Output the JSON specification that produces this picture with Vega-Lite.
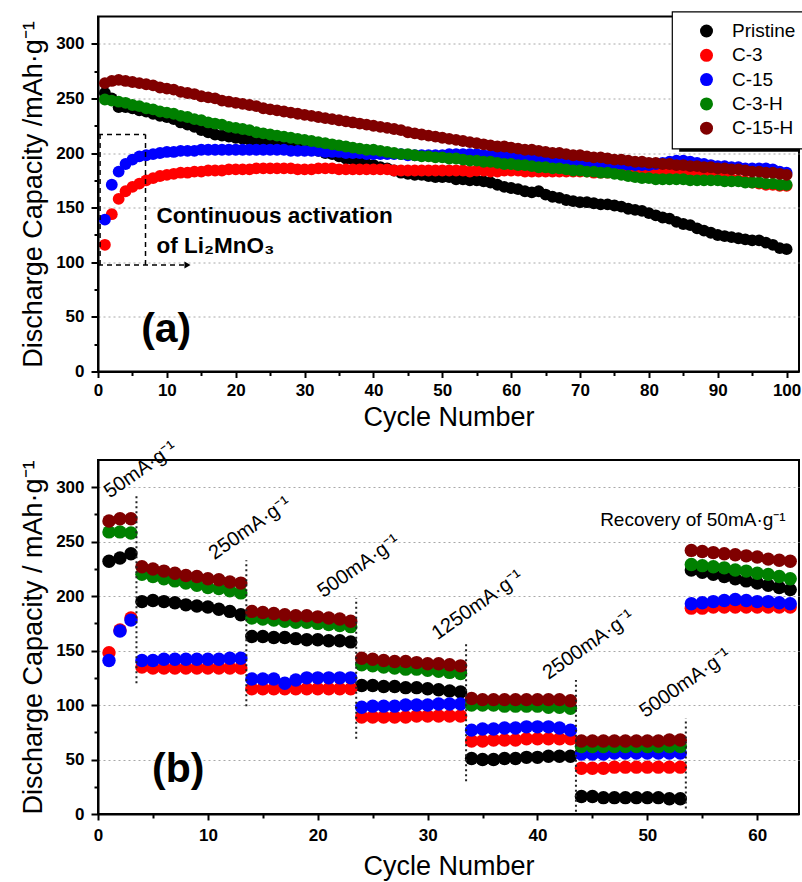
{
"$schema": "https://vega.github.io/schema/vega-lite/v6.json",
"padding": {"left": 18, "top": 9.5, "right": 0, "bottom": 0},
"background": "white",
"spacing": 4.5,
"datasets": {
"a": [
{"c":1,"Pristine":255,"C-3":116,"C-15":139,"C-3-H":249,"C-15-H":264},
{"c":2,"Pristine":250,"C-3":144,"C-15":171,"C-3-H":248,"C-15-H":266},
{"c":3,"Pristine":242,"C-3":158,"C-15":183,"C-3-H":247,"C-15-H":267},
{"c":4,"Pristine":242,"C-3":165,"C-15":190,"C-3-H":246,"C-15-H":266},
{"c":5,"Pristine":241,"C-3":169,"C-15":194,"C-3-H":244,"C-15-H":265},
{"c":6,"Pristine":239,"C-3":172,"C-15":197,"C-3-H":243,"C-15-H":264},
{"c":7,"Pristine":238,"C-3":175,"C-15":198,"C-3-H":241,"C-15-H":263},
{"c":8,"Pristine":236,"C-3":177,"C-15":199,"C-3-H":240,"C-15-H":262},
{"c":9,"Pristine":234,"C-3":179,"C-15":200,"C-3-H":238,"C-15-H":260},
{"c":10,"Pristine":233,"C-3":180,"C-15":201,"C-3-H":237,"C-15-H":259},
{"c":11,"Pristine":231,"C-3":181,"C-15":201,"C-3-H":236,"C-15-H":258},
{"c":12,"Pristine":228,"C-3":182,"C-15":202,"C-3-H":234,"C-15-H":256},
{"c":13,"Pristine":226,"C-3":182,"C-15":202,"C-3-H":233,"C-15-H":255},
{"c":14,"Pristine":224,"C-3":183,"C-15":202,"C-3-H":231,"C-15-H":254},
{"c":15,"Pristine":221,"C-3":183,"C-15":203,"C-3-H":230,"C-15-H":252},
{"c":16,"Pristine":219,"C-3":184,"C-15":203,"C-3-H":228,"C-15-H":251},
{"c":17,"Pristine":217,"C-3":184,"C-15":203,"C-3-H":227,"C-15-H":250},
{"c":18,"Pristine":216,"C-3":184,"C-15":203,"C-3-H":226,"C-15-H":248},
{"c":19,"Pristine":215,"C-3":185,"C-15":203,"C-3-H":224,"C-15-H":247},
{"c":20,"Pristine":214,"C-3":185,"C-15":203,"C-3-H":223,"C-15-H":246},
{"c":21,"Pristine":213,"C-3":185,"C-15":203,"C-3-H":222,"C-15-H":245},
{"c":22,"Pristine":212,"C-3":185,"C-15":203,"C-3-H":221,"C-15-H":244},
{"c":23,"Pristine":211,"C-3":186,"C-15":203,"C-3-H":219,"C-15-H":243},
{"c":24,"Pristine":210,"C-3":186,"C-15":203,"C-3-H":218,"C-15-H":241},
{"c":25,"Pristine":210,"C-3":186,"C-15":203,"C-3-H":217,"C-15-H":240},
{"c":26,"Pristine":209,"C-3":186,"C-15":203,"C-3-H":216,"C-15-H":239},
{"c":27,"Pristine":208,"C-3":186,"C-15":203,"C-3-H":215,"C-15-H":238},
{"c":28,"Pristine":207,"C-3":186,"C-15":202,"C-3-H":214,"C-15-H":237},
{"c":29,"Pristine":207,"C-3":185,"C-15":202,"C-3-H":213,"C-15-H":236},
{"c":30,"Pristine":206,"C-3":185,"C-15":202,"C-3-H":212,"C-15-H":235},
{"c":31,"Pristine":204,"C-3":185,"C-15":202,"C-3-H":211,"C-15-H":234},
{"c":32,"Pristine":202,"C-3":186,"C-15":202,"C-3-H":210,"C-15-H":233},
{"c":33,"Pristine":200,"C-3":186,"C-15":201,"C-3-H":209,"C-15-H":232},
{"c":34,"Pristine":199,"C-3":186,"C-15":201,"C-3-H":208,"C-15-H":231},
{"c":35,"Pristine":197,"C-3":185,"C-15":201,"C-3-H":207,"C-15-H":230},
{"c":36,"Pristine":195,"C-3":185,"C-15":200,"C-3-H":206,"C-15-H":229},
{"c":37,"Pristine":194,"C-3":185,"C-15":200,"C-3-H":205,"C-15-H":228},
{"c":38,"Pristine":192,"C-3":185,"C-15":200,"C-3-H":204,"C-15-H":227},
{"c":39,"Pristine":190,"C-3":185,"C-15":199,"C-3-H":203,"C-15-H":226},
{"c":40,"Pristine":189,"C-3":185,"C-15":199,"C-3-H":203,"C-15-H":225},
{"c":41,"Pristine":187,"C-3":185,"C-15":199,"C-3-H":202,"C-15-H":224},
{"c":42,"Pristine":186,"C-3":185,"C-15":199,"C-3-H":201,"C-15-H":223},
{"c":43,"Pristine":184,"C-3":184,"C-15":199,"C-3-H":200,"C-15-H":222},
{"c":44,"Pristine":182,"C-3":184,"C-15":199,"C-3-H":199,"C-15-H":221},
{"c":45,"Pristine":181,"C-3":184,"C-15":198,"C-3-H":199,"C-15-H":219},
{"c":46,"Pristine":180,"C-3":184,"C-15":198,"C-3-H":198,"C-15-H":218},
{"c":47,"Pristine":180,"C-3":184,"C-15":198,"C-3-H":197,"C-15-H":217},
{"c":48,"Pristine":179,"C-3":184,"C-15":198,"C-3-H":197,"C-15-H":216},
{"c":49,"Pristine":178,"C-3":184,"C-15":198,"C-3-H":196,"C-15-H":215},
{"c":50,"Pristine":178,"C-3":184,"C-15":198,"C-3-H":196,"C-15-H":214},
{"c":51,"Pristine":178,"C-3":184,"C-15":199,"C-3-H":195,"C-15-H":213},
{"c":52,"Pristine":176,"C-3":184,"C-15":199,"C-3-H":195,"C-15-H":212},
{"c":53,"Pristine":176,"C-3":184,"C-15":199,"C-3-H":194,"C-15-H":211},
{"c":54,"Pristine":175,"C-3":183,"C-15":199,"C-3-H":193,"C-15-H":210},
{"c":55,"Pristine":175,"C-3":184,"C-15":199,"C-3-H":193,"C-15-H":209},
{"c":56,"Pristine":174,"C-3":184,"C-15":198,"C-3-H":192,"C-15-H":208},
{"c":57,"Pristine":173,"C-3":183,"C-15":198,"C-3-H":192,"C-15-H":207},
{"c":58,"Pristine":171,"C-3":183,"C-15":198,"C-3-H":191,"C-15-H":206},
{"c":59,"Pristine":169,"C-3":184,"C-15":197,"C-3-H":190,"C-15-H":206},
{"c":60,"Pristine":168,"C-3":184,"C-15":197,"C-3-H":190,"C-15-H":205},
{"c":61,"Pristine":167,"C-3":184,"C-15":196,"C-3-H":189,"C-15-H":204},
{"c":62,"Pristine":165,"C-3":183,"C-15":196,"C-3-H":189,"C-15-H":203},
{"c":63,"Pristine":164,"C-3":183,"C-15":195,"C-3-H":188,"C-15-H":203},
{"c":64,"Pristine":165,"C-3":183,"C-15":195,"C-3-H":187,"C-15-H":202},
{"c":65,"Pristine":162,"C-3":183,"C-15":194,"C-3-H":187,"C-15-H":201},
{"c":66,"Pristine":160,"C-3":183,"C-15":194,"C-3-H":186,"C-15-H":200},
{"c":67,"Pristine":159,"C-3":183,"C-15":193,"C-3-H":186,"C-15-H":200},
{"c":68,"Pristine":157,"C-3":183,"C-15":193,"C-3-H":185,"C-15-H":199},
{"c":69,"Pristine":156,"C-3":183,"C-15":192,"C-3-H":184,"C-15-H":198},
{"c":70,"Pristine":155,"C-3":183,"C-15":192,"C-3-H":184,"C-15-H":198},
{"c":71,"Pristine":155,"C-3":183,"C-15":191,"C-3-H":183,"C-15-H":197},
{"c":72,"Pristine":154,"C-3":182,"C-15":191,"C-3-H":183,"C-15-H":196},
{"c":73,"Pristine":153,"C-3":182,"C-15":191,"C-3-H":182,"C-15-H":196},
{"c":74,"Pristine":153,"C-3":182,"C-15":190,"C-3-H":182,"C-15-H":195},
{"c":75,"Pristine":152,"C-3":182,"C-15":190,"C-3-H":181,"C-15-H":194},
{"c":76,"Pristine":151,"C-3":182,"C-15":190,"C-3-H":180,"C-15-H":194},
{"c":77,"Pristine":149,"C-3":182,"C-15":189,"C-3-H":179,"C-15-H":193},
{"c":78,"Pristine":148,"C-3":181,"C-15":189,"C-3-H":178,"C-15-H":192},
{"c":79,"Pristine":147,"C-3":181,"C-15":189,"C-3-H":177,"C-15-H":192},
{"c":80,"Pristine":145,"C-3":181,"C-15":189,"C-3-H":177,"C-15-H":191},
{"c":81,"Pristine":143,"C-3":182,"C-15":190,"C-3-H":176,"C-15-H":191},
{"c":82,"Pristine":141,"C-3":182,"C-15":191,"C-3-H":176,"C-15-H":190},
{"c":83,"Pristine":140,"C-3":182,"C-15":192,"C-3-H":176,"C-15-H":190},
{"c":84,"Pristine":137,"C-3":181,"C-15":193,"C-3-H":176,"C-15-H":189},
{"c":85,"Pristine":135,"C-3":181,"C-15":193,"C-3-H":176,"C-15-H":189},
{"c":86,"Pristine":134,"C-3":181,"C-15":192,"C-3-H":175,"C-15-H":188},
{"c":87,"Pristine":131,"C-3":180,"C-15":191,"C-3-H":175,"C-15-H":188},
{"c":88,"Pristine":129,"C-3":179,"C-15":190,"C-3-H":175,"C-15-H":187},
{"c":89,"Pristine":127,"C-3":179,"C-15":189,"C-3-H":175,"C-15-H":187},
{"c":90,"Pristine":125,"C-3":178,"C-15":188,"C-3-H":175,"C-15-H":186},
{"c":91,"Pristine":124,"C-3":177,"C-15":188,"C-3-H":174,"C-15-H":186},
{"c":92,"Pristine":123,"C-3":176,"C-15":187,"C-3-H":174,"C-15-H":185},
{"c":93,"Pristine":122,"C-3":175,"C-15":187,"C-3-H":174,"C-15-H":185},
{"c":94,"Pristine":121,"C-3":174,"C-15":186,"C-3-H":173,"C-15-H":184},
{"c":95,"Pristine":120,"C-3":173,"C-15":186,"C-3-H":173,"C-15-H":183},
{"c":96,"Pristine":120,"C-3":172,"C-15":186,"C-3-H":173,"C-15-H":183},
{"c":97,"Pristine":118,"C-3":171,"C-15":186,"C-3-H":172,"C-15-H":182},
{"c":98,"Pristine":116,"C-3":171,"C-15":185,"C-3-H":172,"C-15-H":182},
{"c":99,"Pristine":113,"C-3":170,"C-15":183,"C-3-H":171,"C-15-H":181},
{"c":100,"Pristine":112,"C-3":170,"C-15":182,"C-3-H":171,"C-15-H":180}
],
"b": [
{"c":1,"Pristine":232,"C-3":148,"C-15":141,"C-3-H":259,"C-15-H":269},
{"c":2,"Pristine":235,"C-3":169,"C-15":168,"C-3-H":259,"C-15-H":271},
{"c":3,"Pristine":239,"C-3":180,"C-15":178,"C-3-H":258,"C-15-H":271},
{"c":4,"Pristine":195,"C-3":135,"C-15":141,"C-3-H":220,"C-15-H":227},
{"c":5,"Pristine":196,"C-3":134,"C-15":141,"C-3-H":218,"C-15-H":225},
{"c":6,"Pristine":195,"C-3":134,"C-15":142,"C-3-H":216,"C-15-H":223},
{"c":7,"Pristine":194,"C-3":134,"C-15":142,"C-3-H":214,"C-15-H":221},
{"c":8,"Pristine":192,"C-3":134,"C-15":142,"C-3-H":212,"C-15-H":219},
{"c":9,"Pristine":191,"C-3":134,"C-15":142,"C-3-H":210,"C-15-H":218},
{"c":10,"Pristine":190,"C-3":134,"C-15":142,"C-3-H":208,"C-15-H":216},
{"c":11,"Pristine":188,"C-3":134,"C-15":142,"C-3-H":207,"C-15-H":215},
{"c":12,"Pristine":186,"C-3":134,"C-15":143,"C-3-H":205,"C-15-H":213},
{"c":13,"Pristine":183,"C-3":134,"C-15":143,"C-3-H":203,"C-15-H":212},
{"c":14,"Pristine":163,"C-3":115,"C-15":124,"C-3-H":180,"C-15-H":186},
{"c":15,"Pristine":163,"C-3":115,"C-15":124,"C-3-H":179,"C-15-H":185},
{"c":16,"Pristine":162,"C-3":115,"C-15":124,"C-3-H":178,"C-15-H":184},
{"c":17,"Pristine":162,"C-3":115,"C-15":120,"C-3-H":177,"C-15-H":183},
{"c":18,"Pristine":161,"C-3":115,"C-15":123,"C-3-H":176,"C-15-H":182},
{"c":19,"Pristine":160,"C-3":115,"C-15":125,"C-3-H":176,"C-15-H":182},
{"c":20,"Pristine":160,"C-3":115,"C-15":125,"C-3-H":175,"C-15-H":181},
{"c":21,"Pristine":159,"C-3":115,"C-15":125,"C-3-H":174,"C-15-H":180},
{"c":22,"Pristine":159,"C-3":115,"C-15":125,"C-3-H":173,"C-15-H":179},
{"c":23,"Pristine":158,"C-3":115,"C-15":125,"C-3-H":172,"C-15-H":177},
{"c":24,"Pristine":118,"C-3":89,"C-15":98,"C-3-H":137,"C-15-H":143},
{"c":25,"Pristine":118,"C-3":89,"C-15":99,"C-3-H":136,"C-15-H":142},
{"c":26,"Pristine":117,"C-3":89,"C-15":99,"C-3-H":135,"C-15-H":141},
{"c":27,"Pristine":117,"C-3":89,"C-15":99,"C-3-H":134,"C-15-H":140},
{"c":28,"Pristine":116,"C-3":89,"C-15":100,"C-3-H":133,"C-15-H":140},
{"c":29,"Pristine":116,"C-3":90,"C-15":100,"C-3-H":133,"C-15-H":139},
{"c":30,"Pristine":115,"C-3":90,"C-15":100,"C-3-H":132,"C-15-H":138},
{"c":31,"Pristine":114,"C-3":90,"C-15":101,"C-3-H":131,"C-15-H":138},
{"c":32,"Pristine":113,"C-3":90,"C-15":101,"C-3-H":130,"C-15-H":137},
{"c":33,"Pristine":112,"C-3":90,"C-15":101,"C-3-H":129,"C-15-H":136},
{"c":34,"Pristine":51,"C-3":67,"C-15":77,"C-3-H":100,"C-15-H":106},
{"c":35,"Pristine":50,"C-3":67,"C-15":78,"C-3-H":100,"C-15-H":105},
{"c":36,"Pristine":50,"C-3":68,"C-15":78,"C-3-H":100,"C-15-H":105},
{"c":37,"Pristine":51,"C-3":68,"C-15":79,"C-3-H":99,"C-15-H":105},
{"c":38,"Pristine":51,"C-3":68,"C-15":79,"C-3-H":99,"C-15-H":105},
{"c":39,"Pristine":52,"C-3":69,"C-15":80,"C-3-H":99,"C-15-H":105},
{"c":40,"Pristine":52,"C-3":69,"C-15":80,"C-3-H":99,"C-15-H":105},
{"c":41,"Pristine":53,"C-3":69,"C-15":80,"C-3-H":98,"C-15-H":105},
{"c":42,"Pristine":53,"C-3":69,"C-15":79,"C-3-H":98,"C-15-H":105},
{"c":43,"Pristine":53,"C-3":69,"C-15":77,"C-3-H":97,"C-15-H":104},
{"c":44,"Pristine":16,"C-3":42,"C-15":55,"C-3-H":62,"C-15-H":67},
{"c":45,"Pristine":16,"C-3":42,"C-15":55,"C-3-H":62,"C-15-H":67},
{"c":46,"Pristine":15,"C-3":42,"C-15":55,"C-3-H":62,"C-15-H":67},
{"c":47,"Pristine":15,"C-3":43,"C-15":56,"C-3-H":62,"C-15-H":67},
{"c":48,"Pristine":15,"C-3":43,"C-15":56,"C-3-H":62,"C-15-H":67},
{"c":49,"Pristine":15,"C-3":43,"C-15":56,"C-3-H":62,"C-15-H":67},
{"c":50,"Pristine":15,"C-3":43,"C-15":56,"C-3-H":62,"C-15-H":67},
{"c":51,"Pristine":15,"C-3":43,"C-15":56,"C-3-H":62,"C-15-H":67},
{"c":52,"Pristine":14,"C-3":43,"C-15":56,"C-3-H":62,"C-15-H":68},
{"c":53,"Pristine":14,"C-3":43,"C-15":56,"C-3-H":62,"C-15-H":68},
{"c":54,"Pristine":224,"C-3":189,"C-15":193,"C-3-H":229,"C-15-H":242},
{"c":55,"Pristine":222,"C-3":189,"C-15":194,"C-3-H":228,"C-15-H":241},
{"c":56,"Pristine":220,"C-3":190,"C-15":195,"C-3-H":227,"C-15-H":240},
{"c":57,"Pristine":218,"C-3":190,"C-15":196,"C-3-H":226,"C-15-H":239},
{"c":58,"Pristine":216,"C-3":190,"C-15":197,"C-3-H":224,"C-15-H":238},
{"c":59,"Pristine":214,"C-3":190,"C-15":196,"C-3-H":223,"C-15-H":237},
{"c":60,"Pristine":212,"C-3":190,"C-15":195,"C-3-H":221,"C-15-H":236},
{"c":61,"Pristine":210,"C-3":190,"C-15":195,"C-3-H":220,"C-15-H":234},
{"c":62,"Pristine":208,"C-3":190,"C-15":194,"C-3-H":218,"C-15-H":233},
{"c":63,"Pristine":206,"C-3":190,"C-15":193,"C-3-H":216,"C-15-H":232}
]
},
"vconcat": [
{
"width": 701, "height": 355,
"encoding": {
"x": {"field": "c", "type": "quantitative", "scale": {"domain": [0, 101.8], "nice": false, "zero": false},
"axis": {"title": "Cycle Number", "values": [0,5,10,15,20,25,30,35,40,45,50,55,60,65,70,75,80,85,90,95,100], "labelExpr": "datum.value % 10 == 0 ? datum.label : ''", "tickSize": {"condition": {"test": "datum.value % 10 != 0", "value": 4}, "value": 6}, "labelPadding": 5, "titlePadding": 6, "grid": false}},
"y": {"field": "v", "type": "quantitative", "scale": {"domain": [0, 325], "nice": false, "zero": false},
"axis": {"title": "Discharge Capacity /mAh·g⁻¹", "values": [0,25,50,75,100,125,150,175,200,225,250,275,300], "labelExpr": "datum.value % 50 == 0 ? datum.label : ''", "tickSize": {"condition": {"test": "datum.value % 50 != 0", "value": 4}, "value": 7}, "labelPadding": 7, "titlePadding": 8, "grid": true, "gridOpacity": {"condition": {"test": "datum.value % 50 != 0 || datum.value == 0", "value": 0}, "value": 1}}}
},
"layer": [
{
"data": {"name": "a"},
"encoding": {
"color": {"field": "s", "type": "nominal", "scale": {"domain": ["Pristine","C-3","C-15","C-3-H","C-15-H"], "range": ["#000000","#ff0000","#0000ff","#008000","#800000"]},
"legend": {"title": null, "orient": "none", "legendX": 574, "legendY": -5, "symbolType": "circle", "symbolSize": 169, "symbolStrokeWidth": 0, "labelFontSize": 19, "labelFont": "Liberation Sans", "labelColor": "black", "padding": 10, "rowPadding": 4.3, "symbolOffset": 15, "labelOffset": 16, "strokeColor": "black", "fillColor": "white"}}
},
"layer": [
{"transform": [{"fold": ["Pristine"], "as": ["s", "v"]}], "mark": {"type": "point", "filled": true, "opacity": 1, "size": 140, "strokeWidth": 0}},
{"transform": [{"fold": ["C-3"], "as": ["s", "v"]}], "mark": {"type": "point", "filled": true, "opacity": 1, "size": 140, "strokeWidth": 0}},
{"transform": [{"fold": ["C-15"], "as": ["s", "v"]}], "mark": {"type": "point", "filled": true, "opacity": 1, "size": 140, "strokeWidth": 0}},
{"transform": [{"fold": ["C-3-H"], "as": ["s", "v"]}], "mark": {"type": "point", "filled": true, "opacity": 1, "size": 140, "strokeWidth": 0}},
{"transform": [{"fold": ["C-15-H"], "as": ["s", "v"]}], "mark": {"type": "point", "filled": true, "opacity": 1, "size": 140, "strokeWidth": 0}}
]
},
{
"data": {"values": [
{"c": 0.3, "c2": 0.3, "v": 97.5, "v2": 217},
{"c": 0, "c2": 6.9, "v": 217, "v2": 217},
{"c": 6.9, "c2": 6.9, "v": 97.5, "v2": 217},
{"c": 0, "c2": 12.6, "v": 97.5, "v2": 97.5}
]},
"mark": {"type": "rule", "color": "black", "strokeWidth": 1.5, "strokeDash": [5, 4]},
"encoding": {"x2": {"field": "c2"}, "y2": {"field": "v2"}}
},
{
"data": {"values": [{"c": 84.4, "c2": 101.8, "v": 203.5, "v2": 203.5}]},
"mark": {"type": "rule", "color": "black", "strokeWidth": 5},
"encoding": {"x2": {"field": "c2"}, "y2": {"field": "v2"}}
},
{
"data": {"values": [{"c": 13.0, "v": 97.5}]},
"mark": {"type": "point", "shape": "triangle-right", "filled": true, "color": "black", "opacity": 1, "size": 50},
"encoding": {}
},
{
"data": {"values": [
{"c": 8.5, "v": 136.3, "t": "Continuous activation"},
{"c": 8.5, "v": 108.2, "t": "of Li₂MnO₃"}
]},
"mark": {"type": "text", "font": "Liberation Sans", "fontWeight": "bold", "fontSize": 22.5, "align": "left", "baseline": "alphabetic", "color": "black"},
"encoding": {"text": {"field": "t"}}
},
{
"data": {"values": [{"c": 9.9, "v": 27, "t": "(a)"}]},
"mark": {"type": "text", "font": "Liberation Sans", "fontWeight": "bold", "fontSize": 41, "align": "center", "baseline": "alphabetic", "color": "black"},
"encoding": {"text": {"field": "t"}}
}
]
},
{
"width": 701, "height": 354,
"encoding": {
"x": {"field": "c", "type": "quantitative", "scale": {"domain": [0, 63.8], "nice": false, "zero": false},
"axis": {"title": "Cycle Number", "values": [0,5,10,15,20,25,30,35,40,45,50,55,60], "labelExpr": "datum.value % 10 == 0 ? datum.label : ''", "tickSize": {"condition": {"test": "datum.value % 10 != 0", "value": 4}, "value": 6}, "labelPadding": 7, "titlePadding": 10, "grid": false}},
"y": {"field": "v", "type": "quantitative", "scale": {"domain": [0, 325], "nice": false, "zero": false},
"axis": {"title": "Discharge Capacity / mAh·g⁻¹", "values": [0,25,50,75,100,125,150,175,200,225,250,275,300], "labelExpr": "datum.value % 50 == 0 ? datum.label : ''", "tickSize": {"condition": {"test": "datum.value % 50 != 0", "value": 4}, "value": 7}, "labelPadding": 7, "titlePadding": 8, "grid": true, "gridOpacity": {"condition": {"test": "datum.value % 50 != 0 || datum.value == 0", "value": 0}, "value": 1}}}
},
"layer": [
{
"data": {"name": "b"},
"encoding": {
"color": {"field": "s", "type": "nominal", "scale": {"domain": ["Pristine","C-3","C-15","C-3-H","C-15-H"], "range": ["#000000","#ff0000","#0000ff","#008000","#800000"]}, "legend": null}
},
"layer": [
{"transform": [{"fold": ["Pristine"], "as": ["s", "v"]}], "mark": {"type": "point", "filled": true, "opacity": 1, "size": 180, "strokeWidth": 0}},
{"transform": [{"fold": ["C-3"], "as": ["s", "v"]}], "mark": {"type": "point", "filled": true, "opacity": 1, "size": 180, "strokeWidth": 0}},
{"transform": [{"fold": ["C-15"], "as": ["s", "v"]}], "mark": {"type": "point", "filled": true, "opacity": 1, "size": 180, "strokeWidth": 0}},
{"transform": [{"fold": ["C-3-H"], "as": ["s", "v"]}], "mark": {"type": "point", "filled": true, "opacity": 1, "size": 180, "strokeWidth": 0}},
{"transform": [{"fold": ["C-15-H"], "as": ["s", "v"]}], "mark": {"type": "point", "filled": true, "opacity": 1, "size": 180, "strokeWidth": 0}}
]
},
{
"data": {"values": [
{"c": 3.5, "v": 120, "v2": 293},
{"c": 13.5, "v": 99, "v2": 233},
{"c": 23.5, "v": 69, "v2": 198},
{"c": 33.5, "v": 30, "v2": 158.5},
{"c": 43.5, "v": 2, "v2": 123},
{"c": 53.5, "v": 5, "v2": 88}
]},
"mark": {"type": "rule", "color": "#222222", "strokeWidth": 2, "strokeDash": [2, 3]},
"encoding": {"y2": {"field": "v2"}}
},
{
"data": {"values": [
{"c": 1.07, "v": 289.5, "t": "50mA·g⁻¹"},
{"c": 10.6, "v": 233, "t": "250mA·g⁻¹"},
{"c": 20.5, "v": 198, "t": "500mA·g⁻¹"},
{"c": 30.9, "v": 159.6, "t": "1250mA·g⁻¹"},
{"c": 41.0, "v": 123, "t": "2500mA·g⁻¹"},
{"c": 49.8, "v": 87.8, "t": "5000mA·g⁻¹"}
]},
"mark": {"type": "text", "font": "Liberation Sans", "fontSize": 20, "align": "left", "baseline": "alphabetic", "angle": -35, "color": "black"},
"encoding": {"text": {"field": "t"}}
},
{
"data": {"values": [{"c": 45.7, "v": 264, "t": "Recovery of 50mA·g⁻¹"}]},
"mark": {"type": "text", "font": "Liberation Sans", "fontSize": 19, "align": "left", "baseline": "alphabetic", "color": "black"},
"encoding": {"text": {"field": "t"}}
},
{
"data": {"values": [{"c": 7.3, "v": 29.7, "t": "(b)"}]},
"mark": {"type": "text", "font": "Liberation Sans", "fontWeight": "bold", "fontSize": 41, "align": "center", "baseline": "alphabetic", "color": "black"},
"encoding": {"text": {"field": "t"}}
}
]
}
],
"resolve": {"legend": {"color": "independent"}},
"config": {
"font": "Liberation Sans",
"view": {"stroke": "black", "strokeWidth": 2},
"axis": {"domainColor": "black", "domainWidth": 2, "tickColor": "black", "tickWidth": 2, "labelFont": "Liberation Sans", "labelFontWeight": "bold", "labelFontSize": 17, "labelColor": "black", "labelOverlap": false, "labelFlush": false, "titleFont": "Liberation Sans", "titleFontWeight": "normal", "titleFontSize": 27, "titleColor": "black", "gridColor": "#a8a8a8", "gridDash": [2, 3], "gridWidth": 1},
"legend": {"strokeWidth": 1.2}
}
}
